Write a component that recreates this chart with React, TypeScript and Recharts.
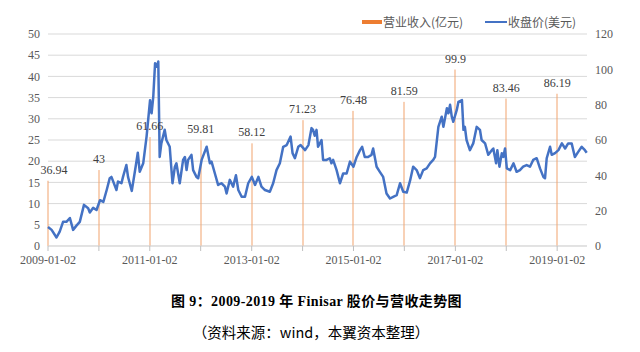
import React from 'react';
import { ComposedChart, Line, Bar, XAxis, YAxis, CartesianGrid, LabelList } from 'recharts';

// 收盘价(美元) — closing price
const priceDates = [
  '2009-01-02','2009-01-28','2009-03-04','2009-03-27','2009-04-20','2009-05-14','2009-06-08','2009-07-01','2009-07-25','2009-08-18',
  '2009-09-17','2009-10-17','2009-10-29','2009-11-22','2009-12-16','2010-01-10','2010-02-03','2010-02-27','2010-03-21','2010-04-02',
  '2010-05-08','2010-05-19','2010-06-13','2010-06-24','2010-07-18','2010-07-30','2010-08-26','2010-09-24','2010-10-08','2010-10-22',
  '2010-11-16','2010-12-10','2011-01-04','2011-01-15','2011-01-27','2011-02-09','2011-02-21','2011-03-04','2011-03-14','2011-03-26',
  '2011-04-19','2011-05-01','2011-05-25','2011-06-14','2011-07-01','2011-07-12','2011-08-05','2011-08-29','2011-09-11','2011-09-23',
  '2011-10-04','2011-10-28','2011-11-09','2011-12-03','2011-12-15','2012-01-09','2012-02-14','2012-03-08','2012-03-20','2012-04-13',
  '2012-05-06','2012-05-30','2012-06-24','2012-07-06','2012-07-29','2012-08-22','2012-09-11','2012-09-28','2012-10-22','2012-11-15',
  '2012-12-08','2013-01-03','2013-01-26','2013-02-19','2013-03-13','2013-04-07','2013-05-12','2013-06-05','2013-06-29','2013-07-23',
  '2013-08-16','2013-09-10','2013-10-08','2013-10-22','2013-11-08','2013-12-02','2013-12-19','2014-01-20','2014-02-13','2014-03-07',
  '2014-03-18','2014-03-30','2014-04-12','2014-04-23','2014-05-18','2014-05-29','2014-06-23','2014-07-16','2014-07-28','2014-08-09',
  '2014-09-03','2014-09-27','2014-10-20','2014-11-14','2014-12-08','2015-01-02','2015-01-25','2015-02-18','2015-03-05','2015-03-24',
  '2015-04-17','2015-05-11','2015-05-23','2015-06-17','2015-07-10','2015-08-03','2015-08-27','2015-09-21','2015-10-14','2015-11-08',
  '2015-12-02','2015-12-25','2016-01-19','2016-02-12','2016-03-05','2016-03-30','2016-04-23','2016-05-16','2016-06-10','2016-07-04',
  '2016-07-27','2016-08-09','2016-09-02','2016-09-26','2016-10-08','2016-11-02','2016-11-13','2016-11-25','2016-12-07','2016-12-18',
  '2017-01-12','2017-01-24','2017-02-18','2017-03-01','2017-03-11','2017-03-23','2017-04-16','2017-05-10','2017-06-04','2017-06-27',
  '2017-07-09','2017-08-03','2017-08-26','2017-09-20','2017-10-01','2017-10-21','2017-10-30','2017-11-14','2017-12-01','2017-12-12',
  '2017-12-24','2018-01-06','2018-01-30','2018-02-23','2018-03-17','2018-04-10','2018-05-03','2018-05-28','2018-06-21','2018-07-14',
  '2018-08-08','2018-09-01','2018-09-25','2018-10-07','2018-10-19','2018-11-12','2018-11-24','2018-12-18','2019-01-11','2019-02-05',
  '2019-02-28','2019-03-22','2019-04-16','2019-05-09','2019-06-02','2019-06-27','2019-07-20','2019-08-02',
];
const priceValues = [
  4.5, 3.8, 2.0, 3.4, 5.7, 5.7, 6.6, 3.8, 4.8, 5.7,
  9.7, 8.9, 7.9, 9.0, 8.5, 10.8, 10.4, 13.2, 16.0, 16.3,
  13.2, 15.2, 14.8, 16.3, 19.1, 16.3, 13.0, 19.0, 22.0, 17.5,
  19.5, 25.8, 34.4, 31.3, 35.2, 43.1, 42.3, 43.5, 21.0, 24.2,
  27.4, 25.0, 23.4, 14.8, 18.7, 19.5, 14.8, 20.3, 21.0, 17.9,
  20.3, 21.5, 17.9, 16.3, 16.0, 20.3, 23.4, 19.5, 19.9, 17.1,
  14.4, 14.8, 14.0, 12.4, 15.6, 14.0, 16.7, 13.2, 11.6, 11.6,
  14.8, 16.3, 14.4, 16.3, 14.0, 13.2, 12.8, 14.8, 17.9, 19.5,
  23.4, 23.8, 25.8, 21.9, 20.7, 23.4, 23.8, 22.6, 23.8, 27.8,
  27.4, 26.0, 27.4, 23.4, 25.0, 20.3, 20.3, 20.7, 19.5, 20.3,
  17.9, 14.8, 17.1, 17.1, 19.9, 18.7, 21.0, 22.6, 23.4, 21.0,
  21.0, 21.5, 23.0, 18.7, 17.5, 16.3, 12.4, 11.2, 11.6, 12.0,
  14.8, 12.8, 12.6, 15.4, 18.7, 17.9, 16.0, 17.9, 18.3, 19.5,
  20.3, 21.0, 28.1, 30.5, 28.1, 32.5, 31.3, 33.3, 30.5, 29.3,
  32.1, 34.0, 34.4, 27.4, 28.1, 25.0, 22.6, 24.2, 28.1, 27.4,
  25.0, 24.2, 21.5, 22.6, 23.0, 19.5, 22.6, 18.7, 21.9, 21.0,
  23.0, 18.3, 17.9, 19.5, 17.5, 17.9, 18.7, 19.1, 18.7, 20.3,
  20.7, 18.3, 16.3, 16.0, 20.7, 23.4, 21.5, 21.9, 22.6, 24.2,
  23.0, 24.2, 24.2, 21.0, 22.2, 23.4, 22.6, 22.0,
];

// 营业收入(亿元) — revenue
const revenueDates = [
  '2009-01-02','2010-01-02','2011-01-02','2012-01-02','2013-01-02','2014-01-02',
  '2015-01-02','2016-01-02','2017-01-02','2018-01-02','2019-01-02',
];
const revenueValues = [36.94, 43, 61.66, 59.81, 58.12, 71.23, 76.48, 81.59, 99.9, 83.46, 86.19];

const xTickDates = [
  '2009-01-02','2010-01-02','2011-01-02','2012-01-02','2013-01-02','2014-01-02',
  '2015-01-02','2016-01-02','2017-01-02','2018-01-02','2019-01-02',
];
const xLabelDates = ['2009-01-02','2011-01-02','2013-01-02','2015-01-02','2017-01-02','2019-01-02'];
const xDomainDates = ['2009-01-02', '2019-08-04'];
const leftTicks = [0, 5, 10, 15, 20, 25, 30, 35, 40, 45, 50];
const rightTicks = [0, 20, 40, 60, 80, 100, 120];

const legendRevenue = '营业收入(亿元)';
const legendPrice = '收盘价(美元)';
const titleText = '图 9：2009-2019 年 Finisar 股价与营收走势图';
const sourceText = '（资料来源：wind，本翼资本整理）';

const ts = (d: string) => Date.parse(d);
const priceRows = priceDates.map((d, i) => ({ t: ts(d), price: priceValues[i] }));
const revenueRows = revenueDates.map((d, i) => ({ t: ts(d), rev: revenueValues[i] }));
const labelSet = new Set(xLabelDates.map(ts));
const fmtDate = (v: number) => {
  if (!labelSet.has(v)) return '';
  return new Date(v).toISOString().slice(0, 10);
};

const axisFont = '"Liberation Serif", "DejaVu Serif", serif';

const RevLabel = (props: any) => {
  const { x, y, width, value } = props;
  const cx = Math.max(x + width / 2, 39 + 15);
  return (
    <text x={cx} y={y - 7} textAnchor="middle" fill="#404040" fontSize={12} fontFamily={axisFont}>
      {value}
    </text>
  );
};

const ThinBar = (props: any) => {
  const { x, y, width, height } = props;
  const cx = Math.round(x + (width || 0) / 2);
  const top = Math.min(y, y + height);
  const h = Math.abs(height);
  return <rect x={cx - 0.5} y={top} width={1} height={h} fill="#F2A36E" />;
};

export default function App() {
  return (
    <div style={{ position: 'absolute', left: 0, top: 0, width: 640, height: 352, background: '#fff' }}>
      <ComposedChart
        width={640}
        height={280}
        data={revenueRows}
        margin={{ top: 34, right: 0, bottom: 0, left: 0 }}
      >
        <CartesianGrid yAxisId="left" vertical={false} stroke="#d9d9d9" />
        <XAxis
          dataKey="t"
          type="number"
          domain={xDomainDates.map(ts)}
          ticks={xTickDates.map(ts)}
          interval={0}
          tickFormatter={fmtDate}
          height={34}
          tickSize={5}
          tickMargin={4}
          stroke="#d9d9d9"
          tickLine={{ stroke: '#bfbfbf' }}
          tick={{ fill: '#595959', fontSize: 12, fontFamily: axisFont }}
        />
        <YAxis
          yAxisId="left"
          orientation="left"
          width={48}
          domain={[0, 50]}
          ticks={leftTicks}
          interval={0}
          axisLine={false}
          tickLine={false}
          tick={{ fill: '#595959', fontSize: 12, fontFamily: axisFont }}
        />
        <YAxis
          yAxisId="right"
          orientation="right"
          width={53}
          domain={[0, 120]}
          ticks={rightTicks}
          interval={0}
          axisLine={false}
          tickLine={false}
          tick={{ fill: '#595959', fontSize: 12, fontFamily: axisFont }}
        />
        <Bar yAxisId="right" dataKey="rev" fill="#F2A36E" barSize={2} shape={ThinBar} isAnimationActive={false}>
          <LabelList dataKey="rev" content={RevLabel} />
        </Bar>
        <Line
          yAxisId="left"
          data={priceRows}
          dataKey="price"
          type="linear"
          stroke="#4472C4"
          strokeWidth={2.5}
          strokeLinejoin="round"
          dot={false}
          activeDot={false}
          isAnimationActive={false}
        />
      </ComposedChart>

      <div style={{ position: 'absolute', left: 362, top: 20, width: 20, height: 4, background: '#ED7D31' }} />
      <div style={{ position: 'absolute', left: 383, top: 13, height: 18, lineHeight: '18px', fontSize: 12, color: '#595959', fontFamily: '"Noto Sans CJK SC", sans-serif', whiteSpace: 'nowrap' }}>
        {legendRevenue}
      </div>
      <div style={{ position: 'absolute', left: 485, top: 21, width: 22, height: 2, background: '#4472C4' }} />
      <div style={{ position: 'absolute', left: 508, top: 13, height: 18, lineHeight: '18px', fontSize: 12, color: '#595959', fontFamily: '"Noto Sans CJK SC", sans-serif', whiteSpace: 'nowrap' }}>
        {legendPrice}
      </div>

      <div style={{ position: 'absolute', left: 171, top: 291, height: 22, lineHeight: '22px', fontSize: 14, letterSpacing: '0.4px', fontWeight: 'bold', color: '#000', fontFamily: '"Liberation Serif", "Noto Sans CJK SC", serif', whiteSpace: 'nowrap' }}>
        {titleText}
      </div>
      <div style={{ position: 'absolute', left: 0, width: 622, top: 322, height: 20, lineHeight: '20px', textAlign: 'center', fontSize: 14.5, color: '#000', fontFamily: '"Noto Sans CJK SC", sans-serif', whiteSpace: 'nowrap' }}>
        {sourceText}
      </div>
    </div>
  );
}
